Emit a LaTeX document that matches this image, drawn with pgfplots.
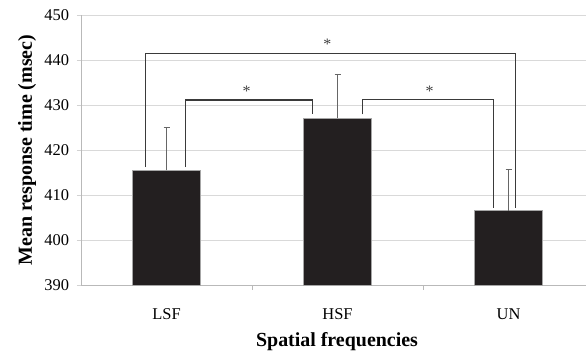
\documentclass[border=0pt]{standalone}
\usepackage{pgfplots}
\pgfplotsset{compat=1.18}
\usepackage{fontspec}
\setmainfont{Liberation Serif}
\definecolor{barfill}{HTML}{231F20}
\definecolor{brk}{HTML}{3A3A3A}
\begin{document}
\begin{tikzpicture}
\begin{axis}[
  scale only axis,
  width=505bp, height=270bp,
  xmin=-0.5, xmax=2.453,
  ymin=390, ymax=450,
  ytick={390,400,...,450},
  xtick={0,1,2},
  xticklabels={LSF,HSF,UN},
  extra x ticks={0.5,1.5},
  extra x tick labels={},
  extra x tick style={grid=none, major tick length=5bp, xtick style={draw=gray!55, line width=0.8pt}},
  major tick length=4bp,
  tick align=outside,
  xtick style={draw=none},
  ytick style={draw=gray!35, line width=0.9pt},
  axis x line*=bottom,
  axis y line*=left,
  axis line style={gray!55, line width=0.8pt},
  ymajorgrids,
  grid style={gray!30, line width=0.9pt},
  /pgf/number format/assume math mode=true,
  tick label style={font=\fontsize{16.5}{18}\selectfont},
  yticklabel style={anchor=east, xshift=-4.5bp},
  xticklabel style={anchor=base, yshift=-30.7bp},
  label style={font=\bfseries\fontsize{20}{22}\selectfont},
  xlabel={Spatial frequencies},
  ylabel={Mean response time (msec)},
  xlabel style={at={([xshift=3.5bp,yshift=-61.7bp]axis description cs:0.5,0)}, anchor=base},
  ylabel style={at={([xshift=-49bp]axis description cs:0,0.5)}, anchor=base},
  clip=false,
]
\addplot[ybar, bar width=0.4, fill=barfill, draw=gray!70, line width=0.5pt,
  error bars/.cd, y dir=plus, y explicit,
  error bar style={gray!80!black, line width=0.7pt},
  error mark options={rotate=90, mark size=3bp, gray!80!black, line width=0.7pt}]
  coordinates {(0,415.5) +- (0,9.6) (1,427.1) +- (0,9.8) (2,406.5) +- (0,9.2)};
% significance brackets
\addplot[brk, line width=1.1pt, mark=none] coordinates {(-0.121,416.2) (-0.121,441.5) (2.043,441.5) (2.043,407.2)};
\addplot[brk, line width=1.1pt, mark=none] coordinates {(0.113,416.2) (0.113,431.1) (0.852,431.1) (0.852,427.9)};
\addplot[brk, line width=1.1pt, mark=none] coordinates {(1.148,427.9) (1.148,431.2) (1.914,431.2) (1.914,407.2)};
\node[font=\fontsize{16}{18}\selectfont, gray!50!black] at (axis cs:0.94,443.4) {*};
\node[font=\fontsize{16}{18}\selectfont, gray!50!black] at (axis cs:0.468,433.0) {*};
\node[font=\fontsize{16}{18}\selectfont, gray!50!black] at (axis cs:1.538,433.0) {*};
\end{axis}
\pgfresetboundingbox
\path ([xshift=-81bp, yshift=-69bp]current axis.south west) rectangle ([yshift=15bp]current axis.north east);
\end{tikzpicture}
\end{document}
